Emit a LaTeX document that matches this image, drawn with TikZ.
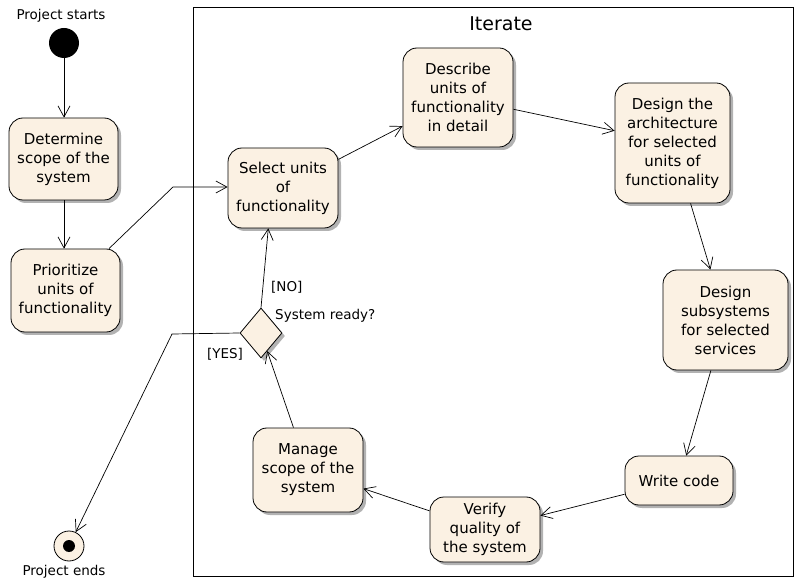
\documentclass[tikz,border=0pt]{standalone}
\usepackage{fontspec}
\setmainfont{DejaVu Sans}
\usetikzlibrary{arrows.meta,shapes.geometric,shadows}
\definecolor{actfill}{RGB}{251,241,227}
\tikzset{
	activity/.style={draw=black, fill=actfill, rounded corners=14pt, line width=0.8pt, align=center, inner sep=2pt,
		font=\fontsize{15}{19}\selectfont,
		drop shadow={shadow xshift=3pt, shadow yshift=-3pt, fill=black!30, opacity=1}},
	flow/.style={line width=0.7pt, -{Straight Barb[length=11pt,width=12pt,line width=0.7pt]}},
	lbl/.style={font=\fontsize{13.5}{15}\selectfont, inner sep=0pt}
}

\begin{document}
\begin{tikzpicture}[x=1pt,y=-1pt]
				\useasboundingbox (0,0) rectangle (796,580);
				
				\draw[line width=0.9pt] (193,7) rectangle (793,576);
				\node[font=\fontsize{19}{22}\selectfont] (iterate) at (501,24) {Iterate};
				
				\node[lbl] (startlbl) at (61,16) {Project starts};
				\node[circle, fill=black, minimum size=30pt, inner sep=0pt] (start) at (64,43) {};
				
				\node[activity, minimum width=109pt, minimum height=82pt] (det) at (63.5,159) {Determine\\scope of the\\system};
				\node[activity, minimum width=109pt, minimum height=83pt] (pri) at (65.5,290.5) {Prioritize\\units of\\functionality};
				\node[activity, minimum width=110pt, minimum height=80pt] (sel) at (283,188) {Select units\\of\\functionality};
				\node[activity, minimum width=110pt, minimum height=99pt] (des) at (458,97.5) {Describe\\units of\\functionality\\in detail};
				\node[activity, minimum width=115pt, minimum height=120pt] (arc) at (672.5,143) {Design the\\architecture\\for selected\\units of\\functionality};
				\node[activity, minimum width=125pt, minimum height=100pt] (sub) at (725.5,320) {Design\\subsystems\\for selected\\services};
				\node[activity, minimum width=108pt, minimum height=49pt] (wri) at (679,480.5) {Write code};
				\node[activity, minimum width=110pt, minimum height=65pt] (ver) at (485,529.5) {Verify\\quality of\\the system};
				\node[activity, minimum width=110pt, minimum height=84pt] (man) at (308,470) {Manage\\scope of the\\system};
				
				\node[diamond, draw=black, fill=actfill, line width=0.8pt, minimum width=42pt, minimum height=50pt, inner sep=0pt,
					drop shadow={shadow xshift=3pt, shadow yshift=-3pt, fill=black!30, opacity=1}] (dia) at (261,333) {};
				\node[lbl, anchor=west] (asklbl) at (275,316) {System ready?};
				\node[lbl, anchor=west] (nolbl) at (271,287) {[NO]};
				\node[lbl] (yeslbl) at (225,354) {[YES]};
				
				\node[circle, draw=black, fill=actfill, line width=0.8pt, minimum size=30pt, inner sep=0pt] (end) at (69,546) {};
				\fill[black] (end) circle (6pt);
				\node[lbl] (endlbl) at (64,572) {Project ends};
				
				\coordinate (bendsel) at (173,187);
				\coordinate (bendend) at (172,334);
				
				\draw[flow] (start) -- (start |- det.north);
				\draw[flow] (det.south -| start) -- (pri.north -| start);
				\draw[flow] (pri) -- (bendsel) -- (sel.west |- bendsel);
				\draw[flow] (sel) -- (des);
				\draw[flow] (des) -- (arc);
				\draw[flow] (arc) -- (sub);
				\draw[flow] (sub) -- (wri);
				\draw[flow] (wri) -- (ver);
				\draw[flow] (ver) -- (man);
				\draw[flow] (man) -- (dia);
				\draw[flow] (dia.north) -- (sel.250);
				\draw[flow] (dia.west) -- (bendend) -- (end);
			\end{tikzpicture}
\end{document}
